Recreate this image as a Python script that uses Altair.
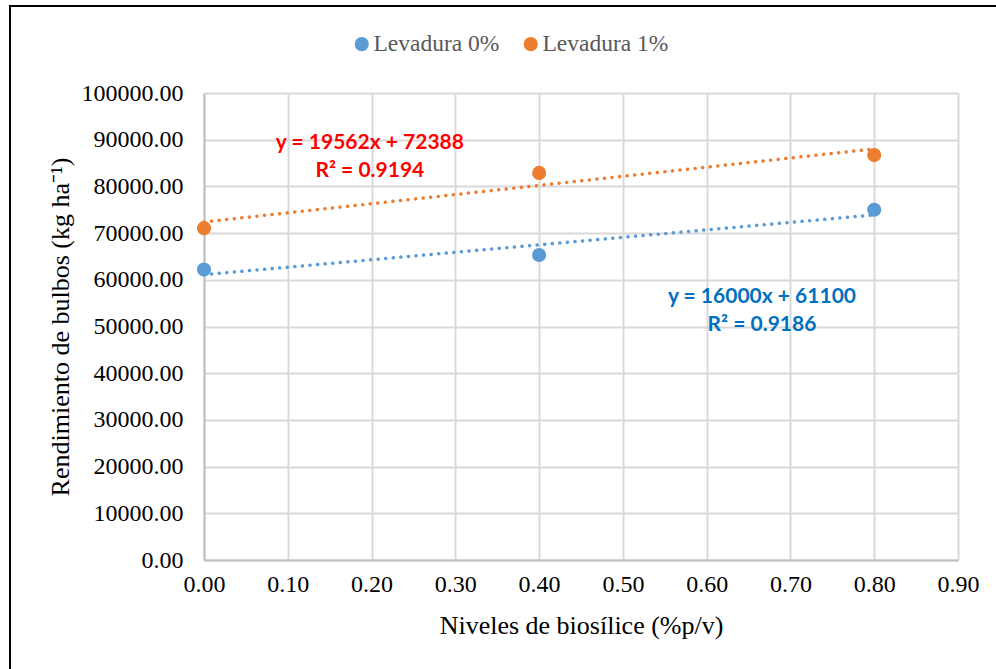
import altair as alt
import pandas as pd

# Biosilice levels (x) and bulb yield for each yeast level
niveles = [0.0, 0.4, 0.8]
levadura_0 = [62200, 65300, 75000]
levadura_1 = [71050, 82888, 86700]
series = ["Levadura 0%", "Levadura 1%"]

# Linear trendline coefficients and fit quality for each series
slopes = [16000, 19562]
intercepts = [61100, 72388]
r_squared = [0.9186, 0.9194]

marker_colors = ["#5B9BD5", "#ED7D31"]
label_colors = ["#0070C0", "#FF0000"]

x_ticks = [0.0, 0.1, 0.2, 0.3, 0.4, 0.5, 0.6, 0.7, 0.8, 0.9]
y_ticks = [0, 10000, 20000, 30000, 40000, 50000, 60000, 70000, 80000, 90000, 100000]

points = pd.DataFrame({
    "nivel": niveles * 2,
    "rend": levadura_0 + levadura_1,
    "serie": [series[0]] * len(niveles) + [series[1]] * len(niveles),
})

x_scale = alt.Scale(domain=[0, 0.9], nice=False, zero=False)
y_scale = alt.Scale(domain=[0, 100000], nice=False)
color_scale = alt.Scale(domain=series, range=marker_colors)

serif = "Liberation Serif"

x_axis = alt.Axis(
    values=x_ticks, format=".2f", title="Niveles de biosílice (%p/v)",
    labelFont=serif, labelFontSize=24, labelColor="#000000",
    labelPadding=12, labelFlush=False, ticks=False, tickSize=0,
    titleFont=serif, titleFontSize=26, titleFontWeight="normal",
    titleColor="#000000", titlePadding=16,
    grid=True, gridColor="#D9D9D9", gridWidth=2,
    domainColor="#BFBFBF", domainWidth=2,
)
y_axis = alt.Axis(
    values=y_ticks, format=".2f", title="Rendimiento de bulbos (kg ha⁻¹)",
    labelFont=serif, labelFontSize=24, labelColor="#000000",
    labelPadding=21, labelFlush=False, ticks=False, tickSize=0,
    titleFont=serif, titleFontSize=26, titleFontWeight="normal",
    titleColor="#000000", titlePadding=8,
    grid=True, gridColor="#D9D9D9", gridWidth=2,
    domainColor="#BFBFBF", domainWidth=2,
)


def trend_layer(i):
    # Dotted linear trendline over the data range, from the fitted equation
    xs = [min(niveles), max(niveles)]
    df = pd.DataFrame({"nivel": xs, "rend": [slopes[i] * xv + intercepts[i] for xv in xs]})
    return alt.Chart(df).mark_line(
        strokeDash=[0.1, 7.5], strokeCap="round", strokeWidth=3.5,
        color=marker_colors[i],
    ).encode(
        x=alt.X("nivel:Q", scale=x_scale, axis=x_axis),
        y=alt.Y("rend:Q", scale=y_scale, axis=y_axis),
    )


point_layer = alt.Chart(points).mark_circle(size=200, opacity=1).encode(
    x=alt.X("nivel:Q", scale=x_scale, axis=x_axis),
    y=alt.Y("rend:Q", scale=y_scale, axis=y_axis),
    color=alt.Color(
        "serie:N", scale=color_scale,
        legend=alt.Legend(
            title=None, orient="none", direction="horizontal",
            legendX=146, legendY=-61, padding=0,
            symbolType="circle", symbolSize=200, symbolStrokeWidth=0,
            labelFont=serif, labelFontSize=23.5, labelColor="#595959",
            labelOffset=0, columnPadding=19,
        ),
    ),
)


def equation_layer(i, x_pos, y_pos):
    text = f"y = {slopes[i]}x + {intercepts[i]}\nR² = {r_squared[i]:.4f}"
    return alt.Chart(pd.DataFrame({"label": [text]})).mark_text(
        font="Lato", fontSize=21, fontWeight="bold", color=label_colors[i],
        align="center", baseline="middle", lineBreak="\n", lineHeight=28,
    ).encode(
        x=alt.datum(x_pos), y=alt.datum(y_pos), text="label:N"
    )


eq_blue = equation_layer(0, 0.666, 56300)
eq_red = equation_layer(1, 0.198, 89300)

# Outer frame of the figure (top and left edges)
frame_df = pd.DataFrame({"k": [0]})
frame_top = alt.Chart(frame_df).mark_rule(color="#000000", strokeWidth=2).encode(
    x=alt.value(-195), x2=alt.value(820), y=alt.value(-87)
)
frame_left = alt.Chart(frame_df).mark_rule(color="#000000", strokeWidth=2).encode(
    x=alt.value(-194), y=alt.value(-88), y2=alt.value(600)
)

chart = alt.layer(
    trend_layer(0), trend_layer(1), point_layer,
    eq_red, eq_blue, frame_top, frame_left
).properties(
    width=754, height=467,
    autosize=alt.AutoSizeParams(type="none"),
    padding={"left": 204, "top": 93, "right": 38, "bottom": 109},
    background="#FFFFFF",
).configure_view(stroke=None)

chart.save("out.html", embed_options={"renderer": "svg", "actions": False})
